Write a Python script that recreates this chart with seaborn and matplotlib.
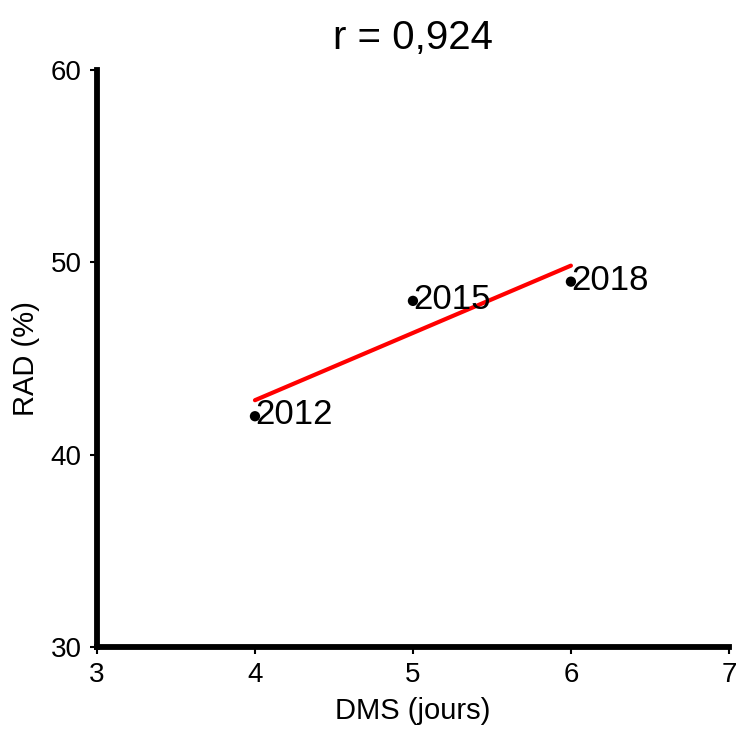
import matplotlib
matplotlib.use("Agg")
import matplotlib.pyplot as plt
import seaborn as sns
import pandas as pd

# data
dms = [4, 5, 6]
rad = [42, 48, 49]
years = ["2012", "2015", "2018"]

df = pd.DataFrame({"dms": dms, "rad": rad, "year": years})

sns.set_style("ticks")
plt.rcParams["font.family"] = ["Liberation Sans", "DejaVu Sans"]
plt.rcParams["text.color"] = "black"
plt.rcParams["axes.labelcolor"] = "black"

fig = plt.figure(figsize=(7.37, 7.31), dpi=100)
ax = fig.add_axes([0.1316, 0.115, 0.8574, 0.789])

# regression line
sns.regplot(x="dms", y="rad", data=df, ci=None, scatter=False,
            line_kws={"color": "red", "lw": 3}, ax=ax)
sns.scatterplot(x="dms", y="rad", data=df, color="black", s=55,
                edgecolor="none", zorder=3, ax=ax)

for x, y, lab in zip(dms, rad, years):
    ax.text(x, y + 0.07, lab, fontsize=25, va="center", ha="left", color="black")

r = df["dms"].corr(df["rad"])
ax.set_title(f"r = {r:.3f}".replace(".", ","), fontsize=29, pad=15, color="black")

ax.set_xlim(3, 7)
ax.set_ylim(30, 60)
ax.set_xticks([3, 4, 5, 6, 7])
ax.set_yticks([30, 40, 50, 60])
ax.tick_params(labelsize=20, width=1.5, length=5, pad=6, color="black", labelcolor="black")
ax.set_xlabel("DMS (jours)", fontsize=21, labelpad=6)
ax.set_ylabel("RAD (%)", fontsize=21, labelpad=8)

sns.despine(ax=ax)
for s in ["left", "bottom"]:
    ax.spines[s].set_linewidth(4.2)
    ax.spines[s].set_color("black")

fig.savefig("out.png", dpi=100)
